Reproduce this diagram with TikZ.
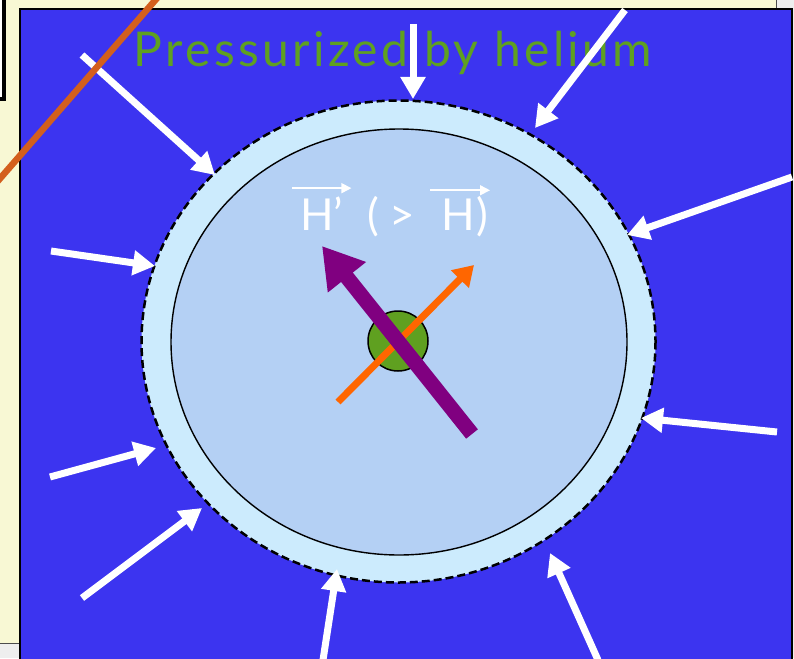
\documentclass[tikz,border=0pt]{standalone}
\usepackage{fontspec}
\setmainfont{Lato}
\newfontfamily\titlefont[LetterSpace=7]{Lato}
\usetikzlibrary{arrows.meta}
\definecolor{bgyellow}{RGB}{248,248,212}
\definecolor{pageGray}{RGB}{238,238,238}
\definecolor{deepblue}{RGB}{60,52,240}
\definecolor{shellblue}{RGB}{204,235,253}
\definecolor{coreblue}{RGB}{180,208,244}
\definecolor{nucgreen}{RGB}{95,160,32}
\definecolor{spinorange}{RGB}{255,102,0}
\definecolor{spinpurple}{RGB}{128,0,128}
\definecolor{rustline}{RGB}{211,95,29}
\tikzset{
  press/.style={draw=white, line width=7pt, -{Triangle[length=22pt,width=24pt]}},
  htext/.style={inner sep=0pt, text=white, font=\fontsize{44}{44}\selectfont},
  hvec/.style={draw=white, line width=1.6pt, -{Triangle[length=10pt,width=10pt]}},
}
\begin{document}
\begin{tikzpicture}[x=1pt,y=-1pt]
\useasboundingbox (0,0) rectangle (794,658);
% page backgrounds
\fill[pageGray] (0,0) rectangle (794,658);
\filldraw[fill=bgyellow, draw=black!70, line width=1pt] (-5,-5) rectangle (776,643);
% black box at top left
\filldraw[fill=white, draw=black, line width=4pt] (-20,-20) rectangle (4,99);
% blue panel
\filldraw[fill=deepblue, draw=black, line width=2pt] (20,9) rectangle (792,680);
% title
\node[inner sep=0pt, anchor=base, text=nucgreen, font=\titlefont\fontsize{48}{48}\selectfont] (title) at (393,67) {Pressurized by helium};
% shells
\filldraw[fill=shellblue, draw=black, line width=2.5pt, dash pattern=on 8pt off 4pt] (398.5,341.5) ellipse [x radius=257, y radius=241];
\filldraw[fill=coreblue, draw=black, line width=1.4pt] (399,342) ellipse [x radius=228, y radius=213];
% pressure arrows
\coordinate (a1s) at (82,55);   \coordinate (a1e) at (215,175);
\coordinate (a2s) at (413,24);  \coordinate (a2e) at (413,99);
\coordinate (a3s) at (625,10);  \coordinate (a3e) at (535,128);
\coordinate (a4s) at (792,177); \coordinate (a4e) at (627,235);
\coordinate (a5s) at (51,251);  \coordinate (a5e) at (155,266);
\coordinate (a6s) at (777,432); \coordinate (a6e) at (641,418);
\coordinate (a7s) at (50,477);  \coordinate (a7e) at (156,448);
\coordinate (a8s) at (82,598);  \coordinate (a8e) at (202,508);
\coordinate (a9s) at (323,660); \coordinate (a9e) at (337,569);
\coordinate (a10s) at (598,660);\coordinate (a10e) at (550,553);
\foreach \i in {1,...,10} \draw[press] (a\i s) -- (a\i e);
% H' (> H) label
\node[htext, anchor=base west] (hp) at (300,230) {H’};
\node[htext, anchor=base west] (lp) at (367,230) {(};
\node[htext, anchor=base west] (gt) at (389,230) {>};
\node[htext, anchor=base west] (h) at (441,230) {H};
\node[htext, anchor=base west] (cp) at (476,230) {)};
\draw[hvec] ([xshift=-8pt,yshift=8pt]hp.north west) -- ([xshift=8pt,yshift=8pt]hp.north east);
\draw[hvec] ([xshift=-11pt,yshift=8pt]h.north west) -- ([xshift=15pt,yshift=8pt]h.north east);
% nucleus
\filldraw[fill=nucgreen, draw=black, line width=1.5pt] (398,341) circle [radius=30];
\coordinate (os) at (338,402); \coordinate (oe) at (474,265);
\draw[spinorange, line width=7pt, -{Triangle[length=20pt,width=24pt]}] (os) -- (oe);
\coordinate (ps) at (472,434); \coordinate (pe) at (322,246);
\draw[spinpurple, line width=15pt, -{Triangle[length=40pt,width=46pt]}] (ps) -- (pe);
% rust line
\coordinate (r1) at (-3,182); \coordinate (r2) at (158,-3);
\draw[rustline, line width=6.5pt] (r1) -- (r2);
\end{tikzpicture}
\end{document}
